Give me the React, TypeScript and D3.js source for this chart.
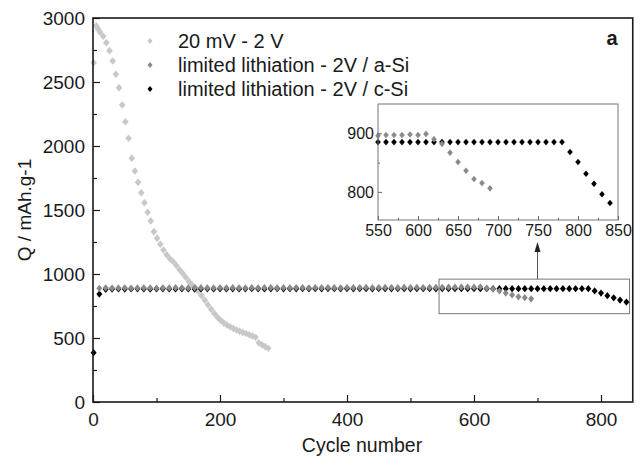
import React, { useEffect, useRef } from 'react';
import * as d3 from 'd3';

// 20 mV - 2 V (full cycling)
const fullCycles = [1, 5, 8, 11, 16, 21, 26, 31, 36, 41, 46, 51, 56, 61, 66, 71, 76, 81, 86, 91, 96, 101, 106, 111, 116, 121, 126, 131, 136, 141, 146, 151, 156, 161, 166, 171, 176, 181, 186, 191, 196, 201, 206, 211, 216, 221, 226, 231, 236, 241, 246, 251, 256, 261, 266, 271, 276];
const fullValues = [2650, 2940, 2915, 2890, 2858, 2807, 2745, 2664, 2560, 2456, 2320, 2190, 2060, 1905, 1805, 1716, 1635, 1557, 1482, 1414, 1331, 1280, 1232, 1188, 1150, 1120, 1098, 1068, 1035, 1005, 975, 942, 915, 895, 865, 830, 795, 760, 725, 692, 662, 638, 618, 601, 588, 575, 562, 552, 543, 535, 525, 516, 506, 462, 447, 433, 420];

// limited lithiation - 2V / a-Si
const aSiCycles = [10, 20, 30, 40, 50, 60, 70, 80, 90, 100, 110, 120, 130, 140, 150, 160, 170, 180, 190, 200, 210, 220, 230, 240, 250, 260, 270, 280, 290, 300, 310, 320, 330, 340, 350, 360, 370, 380, 390, 400, 410, 420, 430, 440, 450, 460, 470, 480, 490, 500, 510, 520, 530, 540, 550, 560, 570, 580, 590, 600, 610, 620, 630, 640, 650, 660, 670, 680, 690];
const aSiValues = [888, 892, 890, 891, 892, 890, 891, 892, 891, 890, 892, 891, 893, 892, 891, 892, 893, 892, 891, 893, 892, 893, 892, 891, 893, 892, 893, 894, 892, 893, 892, 894, 893, 892, 894, 893, 894, 893, 892, 894, 893, 894, 895, 893, 894, 895, 894, 893, 895, 894, 895, 894, 895, 895, 896, 897, 897, 897, 898, 897, 899, 890, 882, 867, 851, 836, 822, 815, 806];

// limited lithiation - 2V / c-Si
const cSiCycles = [1, 10, 20, 30, 40, 50, 60, 70, 80, 90, 100, 110, 120, 130, 140, 150, 160, 170, 180, 190, 200, 210, 220, 230, 240, 250, 260, 270, 280, 290, 300, 310, 320, 330, 340, 350, 360, 370, 380, 390, 400, 410, 420, 430, 440, 450, 460, 470, 480, 490, 500, 510, 520, 530, 540, 550, 560, 570, 580, 590, 600, 610, 620, 630, 640, 650, 660, 670, 680, 690, 700, 710, 720, 730, 740, 750, 760, 770, 780, 790, 800, 810, 820, 830, 840];
const cSiValues = [385, 843, 880, 882, 883, 882, 883, 884, 883, 882, 883, 884, 883, 883, 884, 883, 882, 883, 884, 883, 884, 883, 884, 883, 884, 885, 884, 883, 884, 885, 884, 885, 884, 885, 884, 885, 884, 885, 885, 884, 885, 884, 885, 885, 884, 885, 885, 884, 885, 885, 884, 885, 885, 885, 884, 885, 885, 885, 885, 885, 885, 885, 885, 885, 885, 885, 885, 885, 885, 885, 885, 885, 885, 885, 885, 885, 885, 885, 885, 868, 851, 831, 814, 796, 781];

const legendLabels = ['20 mV - 2 V', 'limited lithiation - 2V / a-Si', 'limited lithiation - 2V / c-Si'];
const seriesColors = ['#c8c8c8', '#8a8a8a', '#000000'];

const xTicks = [0, 200, 400, 600, 800];
const xMinor = [100, 300, 500, 700];
const yTicks = [0, 500, 1000, 1500, 2000, 2500, 3000];
const yMinor = [250, 750, 1250, 1750, 2250, 2750];
const insetXTicks = [550, 600, 650, 700, 750, 800, 850];
const insetXMinor = [575, 625, 675, 725, 775, 825];
const insetYTicks = [800, 900];
const insetYMinor = [850];

// zoomed region marked on the main plot
const zoomCycles = [545, 845];
const zoomValues = [690, 960];

const FONT = '"Liberation Sans", Arial, sans-serif';

const diamond = (w: number, h: number) => `M0,${-h}L${w},0L0,${h}L${-w},0Z`;

const App = () => {
  const ref = useRef<SVGSVGElement | null>(null);

  useEffect(() => {
    document.body.style.margin = '0';
    const svg = d3.select(ref.current);
    svg.selectAll('*').remove();

    const x = d3.scaleLinear().domain([0, 850]).range([93, 632.75]);
    const y = d3.scaleLinear().domain([0, 3000]).range([402, 18]);

    const series = [
      fullCycles.map((c, i) => [c, fullValues[i]]),
      aSiCycles.map((c, i) => [c, aSiValues[i]]),
      cSiCycles.map((c, i) => [c, cSiValues[i]]),
    ];
    const drawOrder = [0, 2, 1];

    // markers
    drawOrder.forEach(s => {
      svg.append('g')
        .selectAll('path')
        .data(series[s])
        .enter()
        .append('path')
        .attr('d', s === 0 ? diamond(3.3, 3.8) : diamond(3, 3.6))
        .attr('transform', d => `translate(${x(d[0])},${y(d[1])})`)
        .attr('fill', seriesColors[s]);
    });

    // axes
    const styleAxis = (g: any, size: number, color = '#1a1a1a', width = 1.2) => {
      g.selectAll('text').style('font-family', FONT).style('font-size', `${size}px`).attr('fill', '#1a1a1a');
      g.selectAll('line').attr('stroke', color).attr('stroke-width', width);
      g.select('.domain').remove();
    };

    svg.append('g').attr('transform', 'translate(0,402)')
      .call(d3.axisBottom(x).tickValues(xTicks).tickSize(-7).tickPadding(11).tickFormat(d3.format('d')))
      .call(g => styleAxis(g, 19));
    svg.append('g').attr('transform', 'translate(0,402)')
      .call(d3.axisBottom(x).tickValues(xMinor).tickSize(-4).tickFormat(() => ''))
      .call(g => styleAxis(g, 19));
    svg.append('g').attr('transform', 'translate(93,0)')
      .call(d3.axisLeft(y).tickValues(yTicks).tickSize(-7).tickPadding(8).tickFormat(d3.format('d')))
      .call(g => styleAxis(g, 19));
    svg.append('g').attr('transform', 'translate(93,0)')
      .call(d3.axisLeft(y).tickValues(yMinor).tickSize(-4).tickFormat(() => ''))
      .call(g => styleAxis(g, 19));

    // frame
    svg.append('rect')
      .attr('x', x(0)).attr('y', y(3000))
      .attr('width', x(850) - x(0)).attr('height', y(0) - y(3000))
      .attr('fill', 'none').attr('stroke', '#1a1a1a').attr('stroke-width', 1.6);

    // axis titles
    svg.append('text')
      .attr('x', 362).attr('y', 452)
      .attr('text-anchor', 'middle')
      .style('font-family', FONT).style('font-size', '19.5px').attr('fill', '#1a1a1a')
      .text('Cycle number');
    svg.append('text')
      .attr('transform', `translate(31,${(y(0) + y(3000)) / 2}) rotate(-90)`)
      .attr('text-anchor', 'middle')
      .style('font-family', FONT).style('font-size', '19px').attr('fill', '#1a1a1a')
      .text('Q / mAh.g-1');

    svg.append('text')
      .attr('x', 612).attr('y', 45)
      .attr('text-anchor', 'middle')
      .style('font-family', FONT).style('font-size', '20px').style('font-weight', 'bold').attr('fill', '#1a1a1a')
      .text('a');

    // legend
    const legend = svg.append('g');
    legendLabels.forEach((label, i) => {
      const cy = 41 + i * 24;
      legend.append('path')
        .attr('d', diamond(2.5, 3))
        .attr('transform', `translate(150,${cy})`)
        .attr('fill', seriesColors[i]);
      legend.append('text')
        .attr('x', 178).attr('y', cy + 7)
        .style('font-family', FONT).style('font-size', '20px').attr('fill', '#1a1a1a')
        .text(label);
    });

    // zoom box + arrow
    svg.append('rect')
      .attr('x', x(zoomCycles[0])).attr('y', y(zoomValues[1]))
      .attr('width', x(zoomCycles[1]) - x(zoomCycles[0]))
      .attr('height', y(zoomValues[0]) - y(zoomValues[1]))
      .attr('fill', 'none').attr('stroke', '#777').attr('stroke-width', 1);
    const ax = x(700);
    svg.append('line')
      .attr('x1', ax).attr('x2', ax)
      .attr('y1', y(zoomValues[1])).attr('y2', 250)
      .attr('stroke', '#555').attr('stroke-width', 1);
    svg.append('path')
      .attr('d', `M${ax},242L${ax - 3},252L${ax + 3},252Z`)
      .attr('fill', '#222');

    // inset
    const ix = d3.scaleLinear().domain([550, 850]).range([378, 618]);
    const iy = d3.scaleLinear().domain([752, 950]).range([220, 104]);

    drawOrder.slice(1).forEach(s => {
      svg.append('g')
        .selectAll('path')
        .data(series[s].filter(d => d[0] >= 550))
        .enter()
        .append('path')
        .attr('d', diamond(2.8, 3.3))
        .attr('transform', d => `translate(${ix(d[0])},${iy(d[1])})`)
        .attr('fill', seriesColors[s]);
    });

    svg.append('g').attr('transform', 'translate(0,220)')
      .call(d3.axisBottom(ix).tickValues(insetXTicks).tickSize(-4).tickPadding(5).tickFormat(d3.format('d')))
      .call(g => styleAxis(g, 16, '#666', 1));
    svg.append('g').attr('transform', 'translate(0,220)')
      .call(d3.axisBottom(ix).tickValues(insetXMinor).tickSize(-2).tickFormat(() => ''))
      .call(g => styleAxis(g, 16, '#666', 1));
    svg.append('g').attr('transform', 'translate(378,0)')
      .call(d3.axisLeft(iy).tickValues(insetYTicks).tickSize(-4).tickPadding(4).tickFormat(d3.format('d')))
      .call(g => styleAxis(g, 16, '#666', 1));
    svg.append('g').attr('transform', 'translate(378,0)')
      .call(d3.axisLeft(iy).tickValues(insetYMinor).tickSize(-2).tickFormat(() => ''))
      .call(g => styleAxis(g, 16, '#666', 1));

    svg.append('rect')
      .attr('x', 378).attr('y', 104).attr('width', 240).attr('height', 116)
      .attr('fill', 'none').attr('stroke', '#777').attr('stroke-width', 1);
  }, []);

  return <svg ref={ref} width={643} height={458} style={{ display: 'block', background: '#fff' }} />;
};

export default App;
